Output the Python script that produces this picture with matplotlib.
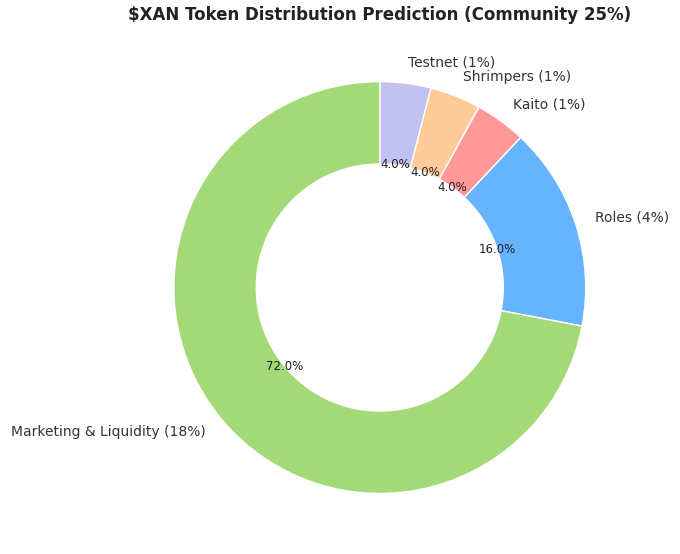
import matplotlib.pyplot as plt

labels = ["Testnet (1%)", "Shrimpers (1%)", "Kaito (1%)", "Roles (4%)", "Marketing & Liquidity (18%)"]
sizes = [1, 1, 1, 4, 18]
colors = ["#c2c2f0", "#ffcc99", "#ff9999", "#66b3ff", "#a3d977"]

fig = plt.figure(figsize=(6.8, 5.54), dpi=100)
ax = fig.add_axes([0.18, 0.016, 0.757, 0.93])

wedges, texts, autotexts = ax.pie(
    sizes, labels=labels, colors=colors, autopct="%1.1f%%",
    startangle=90, counterclock=False,
    wedgeprops=dict(width=0.4, edgecolor="white", linewidth=1),
    textprops=dict(color="#333333"),
)
for t in texts:
    t.set_fontsize(10)
for t in autotexts:
    t.set_fontsize(8.5)
    t.set_color("#222222")

ax.set_aspect("equal")
ax.set_title("$XAN Token Distribution Prediction (Community 25%)",
             fontsize=12, fontweight="bold", color="#222222", pad=7)

fig.savefig("out.png", dpi=100)
